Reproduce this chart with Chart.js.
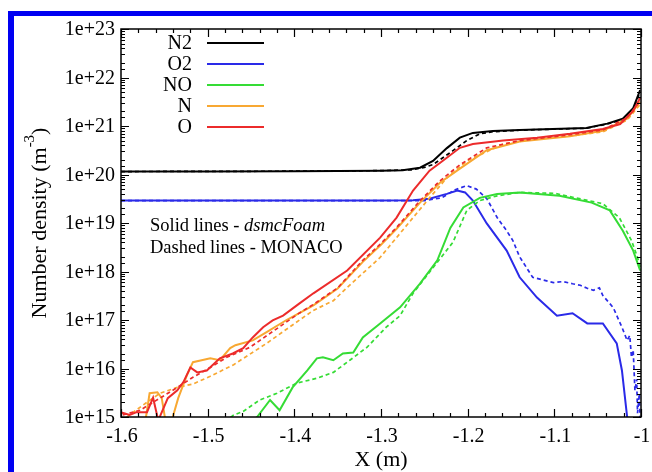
<!DOCTYPE html>
<html>
<head>
<meta charset="utf-8">
<script src="https://cdn.jsdelivr.net/npm/chart.js@4.4.1/dist/chart.umd.min.js"></script>
<style>
  html, body { margin: 0; padding: 0; background: #fff; }
  #frame { position: absolute; left: 8px; top: 11px; width: 644px; height: 461px;
           border-left: 6px solid #0000f2; border-top: 5px solid #0000f2; box-sizing: border-box; }
  #plot { position: absolute; left: 0; top: 0; }
</style>
</head>
<body>
<div id="frame"></div>
<canvas id="plot" width="652" height="472"></canvas>
<script>
// species shown in the key, in plotting order
const species = ['N2', 'O2', 'NO', 'N', 'O'];

// number density (m^-3) along X (m); solid = dsmcFoam, dashed = MONACO
const n2Foam = [[-1.6, 1.15e20], [-1.5, 1.15e20], [-1.4, 1.17e20], [-1.3, 1.2e20], [-1.275, 1.22e20],
  [-1.255, 1.38e20], [-1.24, 1.9e20], [-1.224, 3.5e20], [-1.209, 5.75e20], [-1.194, 7.2e20],
  [-1.171, 7.9e20], [-1.14, 8.3e20], [-1.102, 8.7e20], [-1.063, 9.1e20], [-1.039, 1.12e21],
  [-1.021, 1.41e21], [-1.009, 2.34e21], [-1.001, 5.5e21]];
const n2Monaco = [[-1.6, 1.15e20], [-1.4, 1.17e20], [-1.3, 1.2e20], [-1.265, 1.25e20], [-1.25, 1.4e20],
  [-1.24, 1.6e20], [-1.217, 3.1e20], [-1.201, 5.0e20], [-1.186, 6.9e20], [-1.171, 7.6e20],
  [-1.14, 8.2e20], [-1.102, 8.6e20], [-1.063, 9.0e20], [-1.039, 1.1e21], [-1.021, 1.35e21],
  [-1.009, 2.2e21], [-1.001, 5.0e21]];

const o2Foam = [[-1.6, 2.9e19], [-1.3, 2.9e19], [-1.263, 2.95e19], [-1.244, 3.16e19], [-1.224, 3.98e19],
  [-1.212, 4.68e19], [-1.203, 4.27e19], [-1.194, 2.9e19], [-1.178, 9.8e18], [-1.155, 2.7e18],
  [-1.14, 7.6e17], [-1.12, 2.9e17], [-1.097, 1.23e17], [-1.079, 1.38e17], [-1.062, 8.5e16],
  [-1.044, 8.5e16], [-1.028, 3.3e16], [-1.022, 9.1e15], [-1.016, 1.0e15], [-1.012, 3e14]];
const o2Monaco = [[-1.6, 2.9e19], [-1.25, 2.9e19], [-1.23, 3.3e19], [-1.215, 4.8e19], [-1.201, 5.9e19],
  [-1.19, 5.0e19], [-1.178, 3.2e19], [-1.166, 1.3e19], [-1.155, 6.9e18], [-1.148, 4.4e18],
  [-1.14, 2.0e18], [-1.125, 7.6e17], [-1.101, 5.9e17], [-1.09, 6.2e17], [-1.079, 5.6e17],
  [-1.07, 5.2e17], [-1.062, 4.5e17], [-1.055, 4.1e17], [-1.048, 4.6e17], [-1.044, 3.2e17],
  [-1.032, 1.8e17], [-1.022, 7.1e16], [-1.016, 3.8e16], [-1.013, 4.8e16], [-1.011, 1.7e16],
  [-1.009, 2.4e16], [-1.007, 3.5e15], [-1.005, 6e15], [-1.004, 1.2e15], [-1.002, 3e15], [-1.001, 8e14]];

const noFoam = [[-1.45, 8e14], [-1.443, 1.0e15], [-1.428, 2.24e15], [-1.417, 1.38e15], [-1.402, 4.07e15],
  [-1.385, 9.1e15], [-1.374, 1.62e16], [-1.367, 1.7e16], [-1.355, 1.48e16], [-1.344, 2.04e16],
  [-1.332, 2.14e16], [-1.321, 4.37e16], [-1.301, 8.5e16], [-1.278, 1.82e17], [-1.255, 5.6e17],
  [-1.235, 1.7e18], [-1.22, 7.9e18], [-1.205, 2.1e19], [-1.186, 3.3e19], [-1.166, 3.98e19],
  [-1.14, 4.27e19], [-1.094, 3.63e19], [-1.057, 2.63e19], [-1.036, 1.82e19], [-1.021, 6.9e18],
  [-1.009, 2.7e18], [-1.001, 1.05e18]];
const noMonaco = [[-1.48, 8e14], [-1.47, 1.1e15], [-1.459, 1.3e15], [-1.44, 2.24e15], [-1.42, 3.09e15],
  [-1.397, 5.0e15], [-1.374, 6.3e15], [-1.355, 8.3e15], [-1.336, 1.48e16], [-1.316, 2.75e16],
  [-1.294, 7.1e16], [-1.278, 1.23e17], [-1.263, 3.55e17], [-1.24, 1.2e18], [-1.217, 4.0e18],
  [-1.201, 1.82e19], [-1.186, 2.9e19], [-1.166, 3.63e19], [-1.14, 4.27e19], [-1.1, 4.1e19],
  [-1.044, 2.5e19], [-1.025, 1.29e19], [-1.011, 4.37e18], [-1.004, 1.95e18], [-1.0, 1.05e18]];

const nFoam = [[-1.572, 8e14], [-1.567, 3.09e15], [-1.558, 3.24e15], [-1.553, 2.45e15], [-1.549, 9e14],
  [-1.541, 9e14], [-1.534, 2.45e15], [-1.524, 7.24e15], [-1.517, 1.35e16], [-1.507, 1.48e16],
  [-1.497, 1.62e16], [-1.486, 1.48e16], [-1.474, 2.63e16], [-1.468, 3.02e16], [-1.448, 3.8e16],
  [-1.432, 5.6e16], [-1.409, 1.0e17], [-1.378, 2.0e17], [-1.35, 4.47e17], [-1.321, 1.58e18],
  [-1.3, 3.55e18], [-1.282, 7.6e18], [-1.255, 2.63e19], [-1.232, 6.76e19], [-1.209, 1.32e20],
  [-1.178, 3.16e20], [-1.14, 4.79e20], [-1.082, 6.17e20], [-1.044, 7.94e20], [-1.016, 1.41e21],
  [-1.001, 3.16e21]];
const nMonaco = [[-1.6, 8e14], [-1.59, 1.1e15], [-1.575, 1.74e15], [-1.555, 3.09e15], [-1.535, 4.07e15],
  [-1.517, 4.79e15], [-1.497, 6.9e15], [-1.47, 1.2e16], [-1.432, 3.3e16], [-1.394, 1.0e17],
  [-1.378, 1.58e17], [-1.355, 2.5e17], [-1.339, 4.68e17], [-1.301, 1.95e18], [-1.263, 1.29e19],
  [-1.244, 3.3e19], [-1.224, 8.5e19], [-1.201, 1.9e20], [-1.159, 4.27e20], [-1.12, 5.5e20],
  [-1.082, 6.2e20], [-1.044, 7.6e20], [-1.016, 1.32e21], [-1.001, 2.8e21]];

const oFoam = [[-1.601, 1.26e15], [-1.59, 1.1e15], [-1.582, 1.26e15], [-1.57, 1.26e15], [-1.563, 2.5e15],
  [-1.557, 8.5e14], [-1.546, 2.45e15], [-1.535, 3.55e15], [-1.528, 5.25e15], [-1.52, 1.05e16],
  [-1.512, 8.3e15], [-1.501, 9.1e15], [-1.486, 1.62e16], [-1.471, 2.04e16], [-1.459, 2.63e16],
  [-1.448, 4.37e16], [-1.436, 7.1e16], [-1.425, 9.8e16], [-1.413, 1.23e17], [-1.394, 2.2e17],
  [-1.378, 3.55e17], [-1.339, 1.05e18], [-1.301, 5.0e18], [-1.282, 1.29e19], [-1.263, 4.68e19],
  [-1.244, 1.2e20], [-1.229, 1.9e20], [-1.209, 3.55e20], [-1.194, 4.27e20], [-1.159, 5.0e20],
  [-1.12, 5.75e20], [-1.082, 6.9e20], [-1.044, 8.7e20], [-1.024, 1.1e21], [-1.009, 2.04e21],
  [-1.001, 3.8e21]];
const oMonaco = [[-1.598, 1.1e15], [-1.578, 1.38e15], [-1.555, 2.45e15], [-1.535, 4.07e15], [-1.517, 6.6e15],
  [-1.497, 1.05e16], [-1.478, 1.7e16], [-1.451, 2.75e16], [-1.394, 1.4e17], [-1.378, 2.1e17],
  [-1.35, 4.6e17], [-1.321, 1.7e18], [-1.3, 3.8e18], [-1.282, 8.1e18], [-1.255, 2.88e19],
  [-1.232, 7.4e19], [-1.209, 1.58e20], [-1.178, 3.55e20], [-1.14, 5.0e20], [-1.082, 6.6e20],
  [-1.044, 8.3e20], [-1.016, 1.48e21], [-1.001, 3.3e21]];

const xMin = -1.6, xMax = -1.0;
const yMin = 1e15, yMax = 1e23;

const foamSets = [n2Foam, o2Foam, noFoam, nFoam, oFoam];
const monacoSets = [n2Monaco, o2Monaco, noMonaco, nMonaco, oMonaco];
const lineColors = ['#000000', '#2a2ae8', '#35dc35', '#f8a832', '#ec2b2b'];
const serif = "'Liberation Serif', 'Times New Roman', serif";

const toPoints = arr => arr.map(p => ({ x: p[0], y: p[1] }));

const datasets = [];
species.forEach((name, i) => {
  // later species sit on top, solid over dashed
  const base = 2 * (species.length - i);
  datasets.push({
    label: name, data: toPoints(foamSets[i]), borderColor: lineColors[i],
    borderWidth: 2, pointRadius: 0, order: base
  });
  datasets.push({
    label: name + ' MONACO', data: toPoints(monacoSets[i]), borderColor: lineColors[i],
    borderWidth: 1.7, borderDash: [4, 3], pointRadius: 0, order: base + 1
  });
});

const isDecade = v => {
  const e = Math.log10(v);
  return Math.abs(e - Math.round(e)) < 1e-9;
};

// box, inward ticks on all four sides and the tick labels
const frameTicks = {
  id: 'frameTicks',
  afterDatasetsDraw(chart) {
    const { ctx, chartArea: { left, right, top, bottom }, scales: { x, y } } = chart;
    ctx.save();
    ctx.strokeStyle = '#000';
    ctx.lineWidth = 1.5;
    ctx.strokeRect(left, top, right - left, bottom - top);
    ctx.lineWidth = 1.2;
    ctx.beginPath();
    y.ticks.forEach(t => {
      const py = Math.round(y.getPixelForValue(t.value)) + 0.5;
      const len = isDecade(t.value) ? 8 : 4;
      ctx.moveTo(left, py); ctx.lineTo(left + len, py);
      ctx.moveTo(right, py); ctx.lineTo(right - len, py);
    });
    for (let i = 0; i <= 30; i++) {
      const px = Math.round(x.getPixelForValue(xMin + i * 0.02)) + 0.5;
      const len = i % 5 === 0 ? 8 : 4;
      ctx.moveTo(px, bottom); ctx.lineTo(px, bottom - len);
      ctx.moveTo(px, top); ctx.lineTo(px, top + len);
    }
    ctx.stroke();

    ctx.fillStyle = '#000';
    ctx.font = '20px ' + serif;
    ctx.textBaseline = 'middle';
    ctx.textAlign = 'right';
    y.ticks.forEach(t => {
      if (!isDecade(t.value)) return;
      ctx.fillText('1e+' + Math.round(Math.log10(t.value)), left - 6, y.getPixelForValue(t.value) + 1);
    });
    ctx.textAlign = 'center';
    x.ticks.forEach(t => {
      ctx.fillText(String(Number(t.value.toFixed(1))), x.getPixelForValue(t.value) + 1, bottom + 20);
    });
    ctx.restore();
  }
};

// key, code notes and axis titles
const labels = {
  id: 'labels',
  afterDraw(chart) {
    const { ctx, chartArea: { left, right, top, bottom } } = chart;
    ctx.save();
    ctx.fillStyle = '#000';
    ctx.textBaseline = 'middle';

    // key: species name then a solid sample line
    ctx.font = '20px ' + serif;
    ctx.textAlign = 'right';
    species.forEach((name, i) => {
      const ly = top + 15 + i * 21;
      ctx.fillText(name, 192, ly);
      ctx.strokeStyle = lineColors[i];
      ctx.lineWidth = 2;
      ctx.beginPath();
      ctx.moveTo(207, ly - 1);
      ctx.lineTo(264, ly - 1);
      ctx.stroke();
    });

    ctx.textAlign = 'left';
    ctx.font = '18.5px ' + serif;
    let tx = 150;
    ctx.fillText('Solid lines - ', tx, 226);
    tx += ctx.measureText('Solid lines - ').width;
    ctx.font = 'italic 18.5px ' + serif;
    ctx.fillText('dsmcFoam', tx, 226);
    ctx.font = '18.5px ' + serif;
    ctx.fillText('Dashed lines - MONACO', 150, 248);

    // X title
    ctx.textAlign = 'center';
    ctx.font = '22px ' + serif;
    ctx.fillText('X (m)', (left + right) / 2, 460);

    // Y title with superscript
    ctx.translate(40, (top + bottom) / 2);
    ctx.rotate(-Math.PI / 2);
    ctx.textAlign = 'left';
    const big = '22px ' + serif, small = '15px ' + serif;
    ctx.font = big;
    const w1 = ctx.measureText('Number density (m').width;
    const w3 = ctx.measureText(')').width;
    ctx.font = small;
    const w2 = ctx.measureText('-3').width;
    const sx = -(w1 + w2 + w3) / 2;
    ctx.font = big;
    ctx.fillText('Number density (m', sx, 0);
    ctx.font = small;
    ctx.fillText('-3', sx + w1, -10);
    ctx.font = big;
    ctx.fillText(')', sx + w1 + w2, 0);
    ctx.restore();
  }
};

new Chart(document.getElementById('plot'), {
  type: 'line',
  data: { datasets },
  options: {
    responsive: false,
    animation: false,
    devicePixelRatio: 1,
    layout: { padding: { top: 29, right: 11, left: 121, bottom: 55 } },
    elements: { line: { tension: 0 } },
    plugins: { legend: { display: false }, tooltip: { enabled: false } },
    scales: {
      x: {
        type: 'linear', min: xMin, max: xMax,
        grid: { display: false, drawTicks: false }, border: { display: false },
        ticks: { display: false, stepSize: 0.1 }
      },
      y: {
        type: 'logarithmic', min: yMin, max: yMax,
        grid: { display: false, drawTicks: false }, border: { display: false },
        ticks: { display: false }
      }
    }
  },
  plugins: [frameTicks, labels]
});
</script>
</body>
</html>
